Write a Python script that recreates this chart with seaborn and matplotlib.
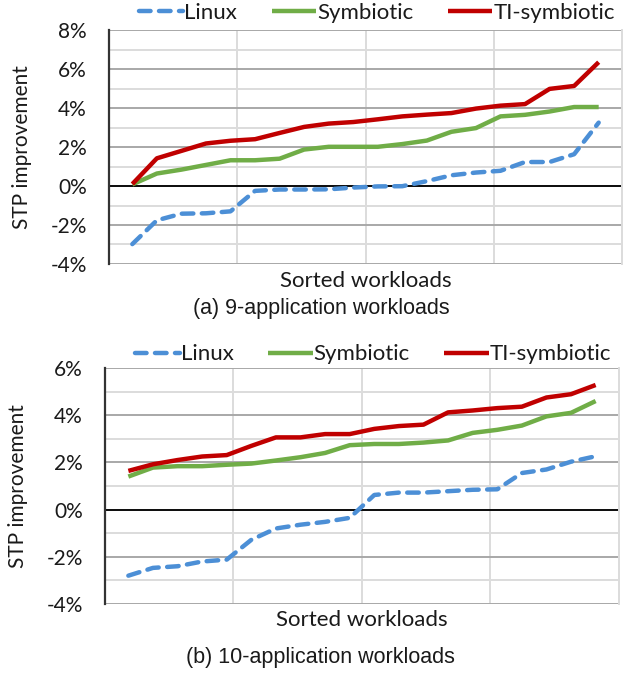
import matplotlib
matplotlib.use("Agg")
import matplotlib.pyplot as plt
import pandas as pd
import seaborn as sns
from matplotlib.ticker import FuncFormatter, MultipleLocator

# sorted workloads, 20 per panel
workloads = list(range(1, 21))
series_names = ["Linux", "Symbiotic", "TI-symbiotic"]

linux_9 = [-2.98, -1.76, -1.42, -1.4, -1.3, -0.25, -0.18, -0.18, -0.17, -0.08,
           -0.02, -0.01, 0.25, 0.55, 0.69, 0.78, 1.23, 1.23, 1.63, 3.25]
symb_9 = [0.08, 0.64, 0.84, 1.08, 1.32, 1.32, 1.4, 1.87, 2.01, 2.01,
          2.01, 2.15, 2.33, 2.78, 2.97, 3.57, 3.65, 3.82, 4.05, 4.05]
ti_9 = [0.1, 1.42, 1.8, 2.18, 2.32, 2.4, 2.72, 3.03, 3.2, 3.28,
        3.42, 3.57, 3.66, 3.74, 3.97, 4.12, 4.2, 4.98, 5.13, 6.35]

linux_10 = [-2.8, -2.47, -2.4, -2.2, -2.12, -1.28, -0.8, -0.64, -0.52, -0.35,
            0.62, 0.72, 0.72, 0.78, 0.84, 0.86, 1.55, 1.7, 2.03, 2.26]
symb_10 = [1.4, 1.78, 1.84, 1.84, 1.9, 1.95, 2.08, 2.22, 2.4, 2.73,
           2.78, 2.78, 2.84, 2.93, 3.25, 3.38, 3.56, 3.95, 4.1, 4.6]
ti_10 = [1.64, 1.92, 2.1, 2.25, 2.31, 2.7, 3.06, 3.06, 3.2, 3.2,
         3.42, 3.54, 3.6, 4.12, 4.2, 4.3, 4.36, 4.75, 4.89, 5.28]

palette = {"Linux": "#4C8FD6", "Symbiotic": "#70AD47", "TI-symbiotic": "#C00000"}
dashes = {"Linux": (2.6, 1.9), "Symbiotic": "", "TI-symbiotic": ""}

sns.set_theme(style="white")
plt.rcParams["font.family"] = ["Lato", "DejaVu Sans"]
plt.rcParams["axes.unicode_minus"] = False

TEXT_SIZE = 15
TEXT_COLOR = "#1a1a1a"


def draw_panel(ax, linux, symb, ti, ylim, legend_y, xlabel_y):
    df = pd.DataFrame({
        "workload": workloads * 3,
        "stp": linux + symb + ti,
        "series": [s for s in series_names for _ in workloads],
    })
    sns.lineplot(data=df, x="workload", y="stp", hue="series", style="series",
                 palette=palette, dashes=dashes, linewidth=3.2, errorbar=None,
                 ax=ax, zorder=3)
    for line in ax.lines:
        line.set_dash_capstyle("round")
        line.set_solid_capstyle("butt")

    ax.set_xlim(0.05, 20.95)
    ax.set_ylim(*ylim)
    ax.yaxis.set_major_locator(MultipleLocator(2))
    ax.yaxis.set_minor_locator(MultipleLocator(1))
    ax.yaxis.set_major_formatter(FuncFormatter(lambda v, _: f"{v:.0f}%"))
    ax.set_xticks([0.05 + 20.9 * q for q in (0.25, 0.5, 0.75)])
    ax.set_xticklabels([])
    ax.tick_params(axis="both", which="both", length=0)
    ax.tick_params(axis="y", pad=16, labelsize=TEXT_SIZE, labelcolor=TEXT_COLOR)

    ax.grid(axis="y", which="major", color="#a8a8a8", linewidth=1.4, zorder=1)
    ax.grid(axis="y", which="minor", color="#dcdcdc", linewidth=1.4, zorder=1)
    ax.grid(axis="x", which="major", color="#dcdcdc", linewidth=1.4, zorder=1)
    ax.axhline(0, color="black", linewidth=1.3, zorder=2)

    for side in ("top", "bottom"):
        ax.spines[side].set_visible(False)
    ax.spines["right"].set_color("#dcdcdc")
    ax.spines["right"].set_linewidth(1.4)
    ax.spines["left"].set_color("#333333")
    ax.spines["left"].set_linewidth(1.6)

    ax.set_ylabel("STP improvement", fontsize=TEXT_SIZE, color=TEXT_COLOR)
    ax.yaxis.set_label_coords(-0.150, 0.5)
    ax.set_xlabel("Sorted workloads", fontsize=16, color=TEXT_COLOR)
    ax.xaxis.set_label_coords(0.5, xlabel_y)

    handles, labels = ax.get_legend_handles_labels()
    leg = ax.legend(handles, labels, ncol=3, frameon=False, loc="center",
                    bbox_to_anchor=(0.522, legend_y), fontsize=16,
                    handlelength=2.0, handletextpad=0.05, columnspacing=1.55,
                    borderaxespad=0)
    for text in leg.get_texts():
        text.set_color(TEXT_COLOR)


fig = plt.figure(figsize=(6.29, 6.73), dpi=100)
ax_top = fig.add_axes([109 / 629, 1 - 264 / 673, 513 / 629, 234 / 673])
ax_bot = fig.add_axes([105 / 629, 1 - 604 / 673, 514 / 629, 236 / 673])

draw_panel(ax_top, linux_9, symb_9, ti_9, (-4, 8), 1.073, -0.03)
draw_panel(ax_bot, linux_10, symb_10, ti_10, (-4, 6), 1.058, -0.025)

fig.text(321 / 629, 1 - 309 / 673, "(a) 9-application workloads",
         ha="center", va="center", fontsize=15.5, family="Liberation Sans",
         color=TEXT_COLOR)
fig.text(320 / 629, 1 - 657 / 673, "(b) 10-application workloads",
         ha="center", va="center", fontsize=15.5, family="Liberation Sans",
         color=TEXT_COLOR)

fig.savefig("out.png", dpi=100)
plt.close(fig)
